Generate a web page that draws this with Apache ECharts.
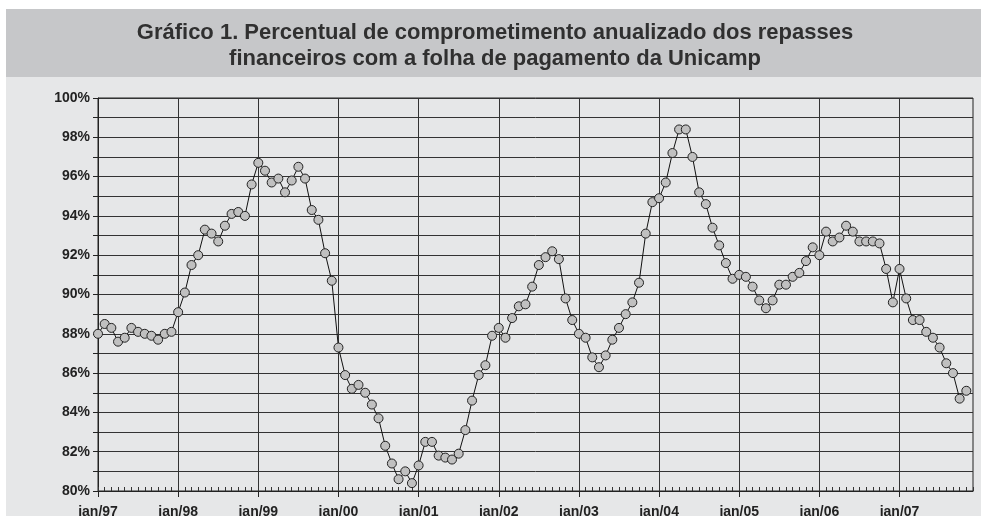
<!DOCTYPE html>
<html>
<head>
<meta charset="utf-8">
<script src="https://cdn.jsdelivr.net/npm/echarts@6/dist/echarts.min.js"></script>
<style>
  html, body { margin: 0; padding: 0; background: #ffffff; }
  #chart { width: 981px; height: 516px; }
</style>
</head>
<body>
<div id="chart"></div>
<script>
// meses de jan/97 a dez/07
const meses = ["jan", "fev", "mar", "abr", "mai", "jun", "jul", "ago", "set", "out", "nov", "dez"];
const anos = ["97", "98", "99", "00", "01", "02", "03", "04", "05", "06", "07"];

// percentual de comprometimento (%), um array por ano
const v1997 = [88.0, 88.5, 88.3, 87.6, 87.8, 88.3, 88.1, 88.0, 87.9, 87.7, 88.0, 88.1];
const v1998 = [89.1, 90.1, 91.5, 92.0, 93.3, 93.1, 92.7, 93.5, 94.1, 94.2, 94.0, 95.6];
const v1999 = [96.7, 96.3, 95.7, 95.9, 95.2, 95.8, 96.5, 95.9, 94.3, 93.8, 92.1, 90.7];
const v2000 = [87.3, 85.9, 85.2, 85.4, 85.0, 84.4, 83.7, 82.3, 81.4, 80.6, 81.0, 80.4];
const v2001 = [81.3, 82.5, 82.5, 81.8, 81.7, 81.6, 81.9, 83.1, 84.6, 85.9, 86.4, 87.9];
const v2002 = [88.3, 87.8, 88.8, 89.4, 89.5, 90.4, 91.5, 91.9, 92.2, 91.8, 89.8, 88.7];
const v2003 = [88.0, 87.8, 86.8, 86.3, 86.9, 87.7, 88.3, 89.0, 89.6, 90.6, 93.1, 94.7];
const v2004 = [94.9, 95.7, 97.2, 98.4, 98.4, 97.0, 95.2, 94.6, 93.4, 92.5, 91.6, 90.8];
const v2005 = [91.0, 90.9, 90.4, 89.7, 89.3, 89.7, 90.5, 90.5, 90.9, 91.1, 91.7, 92.4];
const v2006 = [92.0, 93.2, 92.7, 92.9, 93.5, 93.2, 92.7, 92.7, 92.7, 92.6, 91.3, 89.6];
const v2007 = [91.3, 89.8, 88.7, 88.7, 88.1, 87.8, 87.3, 86.5, 86.0, 84.7, 85.1, null];

let categorias = [];
anos.forEach((a) => {
  meses.forEach((m) => categorias.push(m + "/" + a));
});
const valores = [].concat(v1997, v1998, v1999, v2000, v2001, v2002, v2003, v2004, v2005, v2006, v2007);

const fonte = "Liberation Sans";
const isJan = (index) => index % 12 === 0;

const myChart = echarts.init(document.getElementById("chart"));
const option = {
  animation: false,
  textStyle: { fontFamily: fonte },
  graphic: [
    // faixa do título
    { type: "rect", left: 6, top: 9, shape: { width: 975, height: 68 }, style: { fill: "#c6c7c9" }, z: -10 },
    // fundo do gráfico
    { type: "rect", left: 6, top: 77, shape: { width: 975, height: 439 }, style: { fill: "#e6e7e8" }, z: -10 },
  ],
  title: {
    text: "Gráfico 1. Percentual de comprometimento anualizado dos repasses\nfinanceiros com a folha de pagamento da Unicamp",
    left: 490,
    top: 15,
    textAlign: "center",
    textStyle: {
      fontFamily: fonte,
      fontSize: 22,
      fontWeight: 700,
      color: "#303030",
      lineHeight: 26,
    },
  },
  grid: [
    { left: 98, right: 8, top: 98, bottom: 25, outerBoundsMode: "none", show: true, borderColor: "#222", borderWidth: 1, backgroundColor: "transparent" },
    { left: 98, right: 8, top: 98, bottom: 25, outerBoundsMode: "none" },
  ],
  xAxis: [
    {
      type: "category",
      gridIndex: 0,
      data: categorias,
      boundaryGap: false,
      axisLine: { lineStyle: { color: "#222", width: 1 } },
      axisTick: { interval: isJan, length: 6, lineStyle: { color: "#222" } },
      axisLabel: {
        interval: isJan,
        margin: 14,
        color: "#222",
        fontSize: 14,
        fontWeight: 700,
        fontFamily: fonte,
      },
      splitLine: { show: true, interval: isJan, lineStyle: { color: "#333", width: 1 } },
    },
    {
      // marcas mensais (para dentro)
      type: "category",
      gridIndex: 1,
      data: categorias,
      boundaryGap: false,
      axisLine: { show: false },
      axisTick: { interval: 0, inside: true, length: 4, lineStyle: { color: "#333" } },
      axisLabel: { show: false },
      splitLine: { show: false },
    },
  ],
  yAxis: [
    {
      type: "value",
      gridIndex: 0,
      min: 80,
      max: 100,
      interval: 1,
      axisLine: { show: true, lineStyle: { color: "#222" } },
      axisTick: { show: true, length: 5, lineStyle: { color: "#222" } },
      axisLabel: {
        margin: 8,
        color: "#222",
        fontSize: 14,
        fontWeight: 700,
        fontFamily: fonte,
        formatter: (v) => (v % 2 === 0 ? v + "%" : ""),
      },
      splitLine: { show: true, lineStyle: { color: "#333", width: 1 } },
    },
    {
      type: "value",
      gridIndex: 1,
      min: 80,
      max: 100,
      show: false,
    },
  ],
  series: [
    {
      type: "line",
      xAxisIndex: 0,
      yAxisIndex: 0,
      data: valores,
      symbol: "circle",
      symbolSize: 9,
      showAllSymbol: true,
      lineStyle: { color: "#111", width: 1 },
      itemStyle: { color: "#c0c0c0", borderColor: "#222", borderWidth: 1 },
      z: 5,
    },
  ],
};
myChart.setOption(option, true);

window.addEventListener("resize", () => {
  myChart.resize();
});
</script>
</body>
</html>
